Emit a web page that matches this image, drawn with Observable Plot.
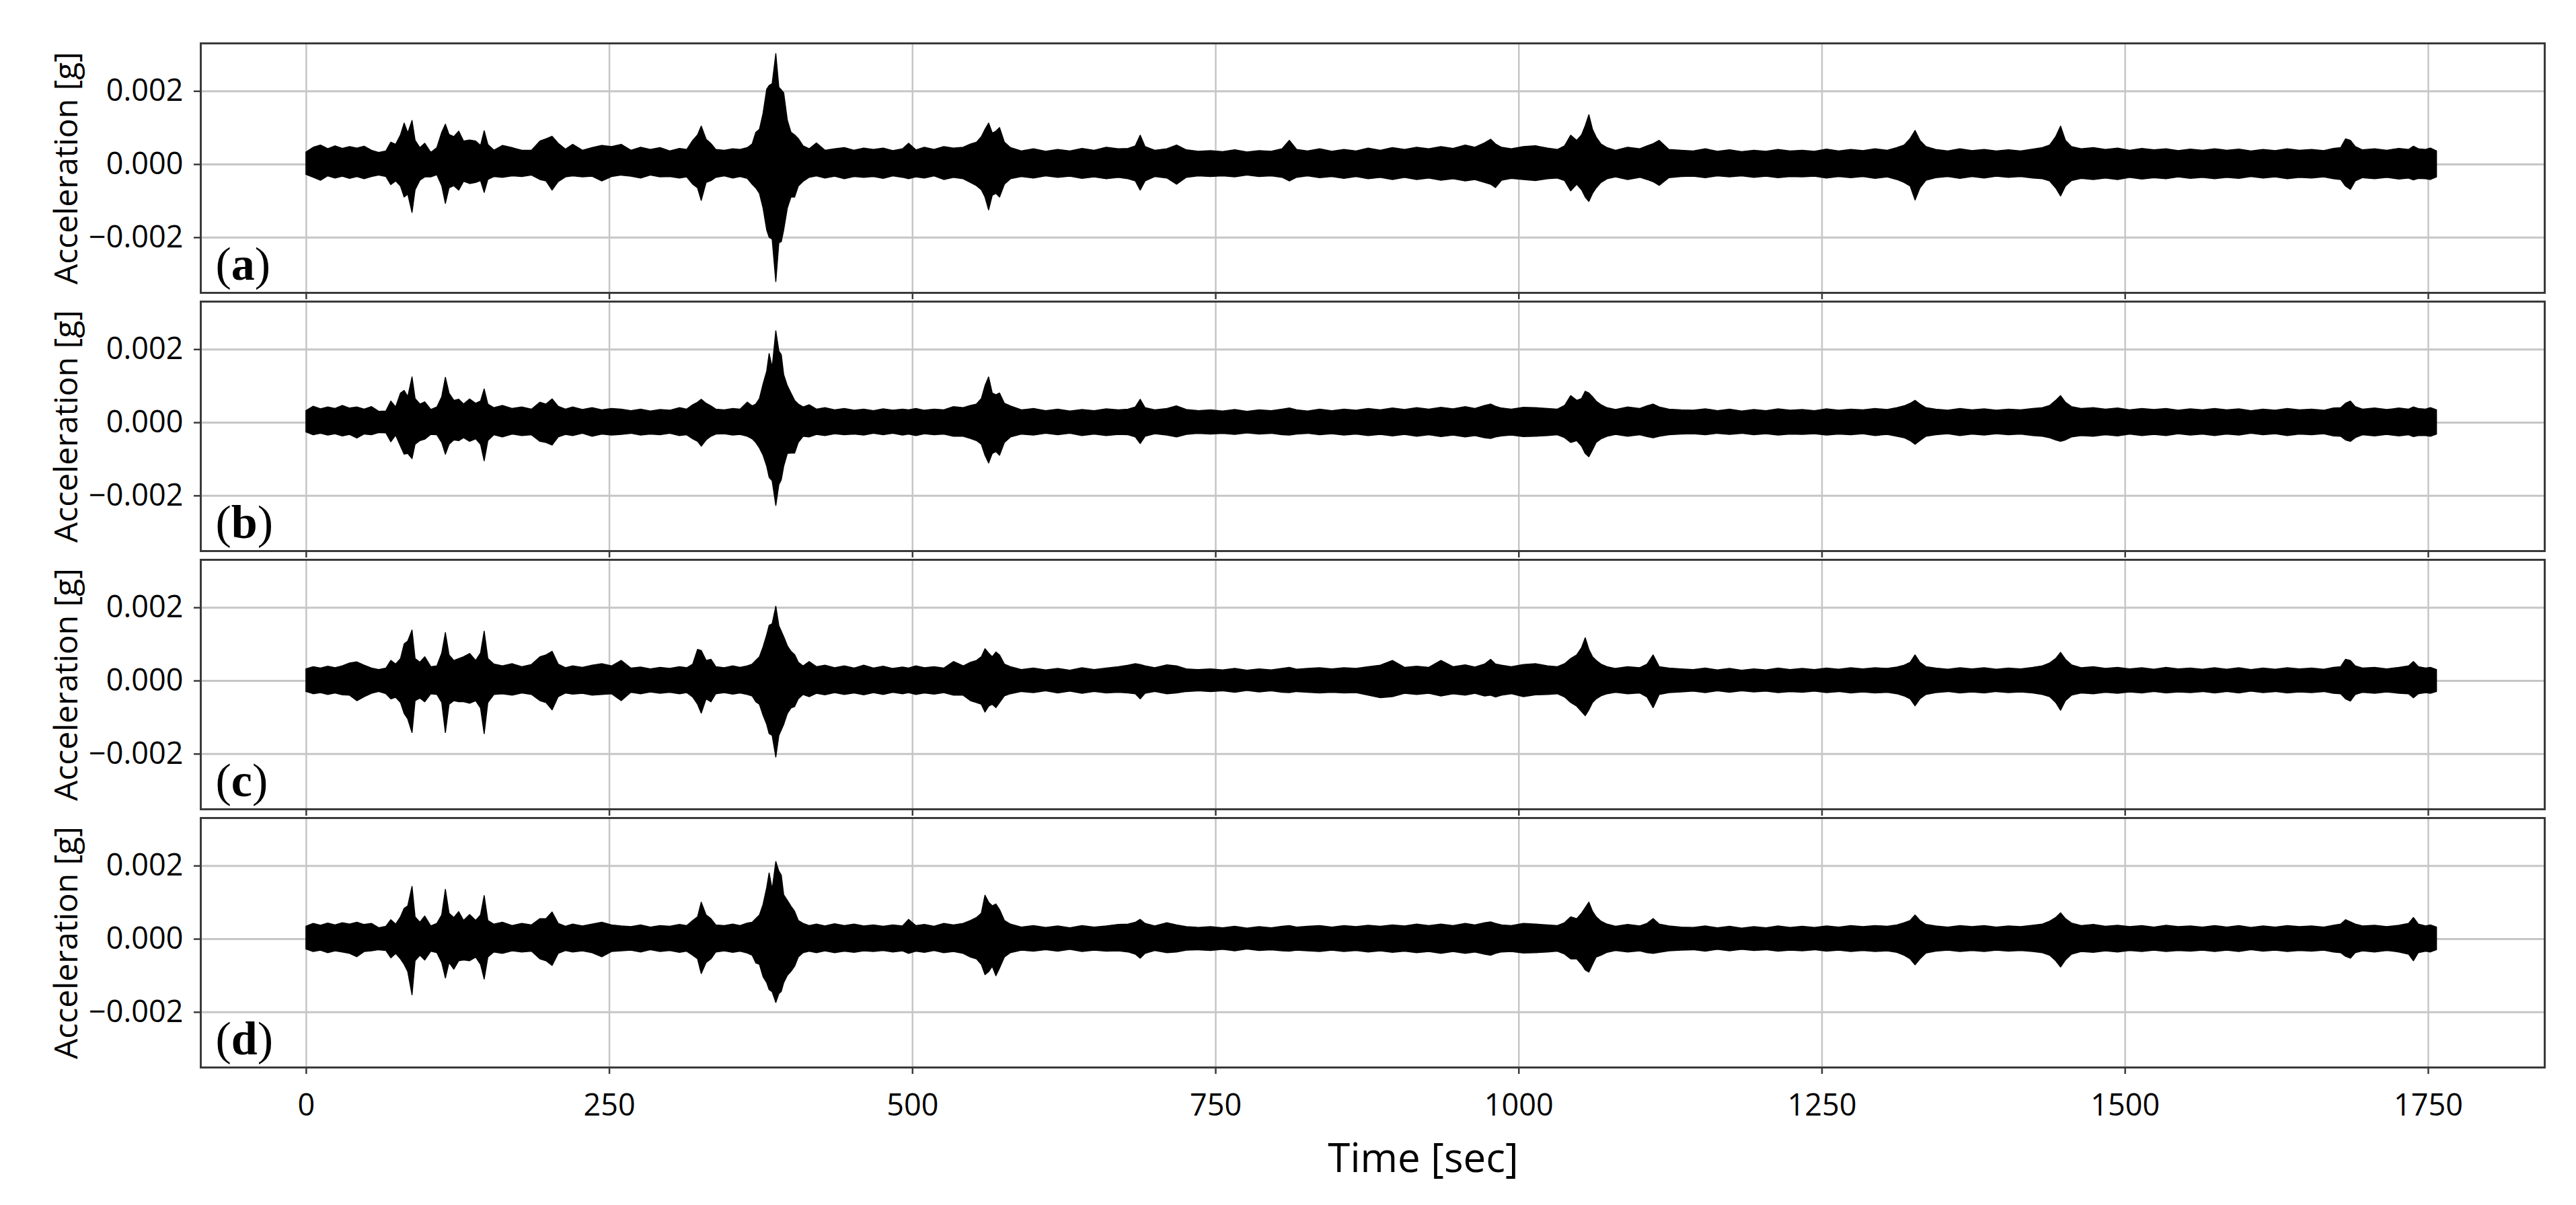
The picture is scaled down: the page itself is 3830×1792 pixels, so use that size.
<!DOCTYPE html>
<html>
<head>
<meta charset="utf-8">
<script src="https://cdn.jsdelivr.net/npm/d3@7"></script>
<script src="https://cdn.jsdelivr.net/npm/@observablehq/plot@0.6"></script>
<style>
  html, body { margin: 0; padding: 0; background: #ffffff; }
  #chart { width: 3830px; height: 1792px; }
  #chart svg { display: block; }
</style>
</head>
<body>
<div id="chart"></div>
<script>
// ---------------- DATA ----------------
// time [sec] of each envelope sample (shared by all four records)
const time = [
  0, 6, 12, 18, 24, 30, 36, 42, 48, 54,
  60, 66, 70, 74, 78, 81, 84, 87.5, 90, 94,
  98, 103, 108, 112, 115, 118, 122, 126, 130, 135,
  140, 144, 147, 150, 155, 162, 170, 178, 186, 193,
  198, 203, 208, 214, 220, 228, 236, 244, 252, 260,
  268, 276, 284, 292, 300, 308, 314, 319, 323, 326,
  330, 334, 338, 345, 352, 358, 364, 368, 371, 374,
  377, 380, 382, 384.5, 387.5, 390, 392, 394, 397, 400,
  403, 406, 410, 415, 421, 428, 436, 444, 452, 460,
  468, 476, 484, 492, 497, 503, 510, 518, 526, 534,
  542, 548, 553, 557, 560, 563, 566, 569, 572, 576,
  581, 590, 600, 610, 620, 630, 640, 650, 660, 670,
  678, 684, 688, 692, 700, 710, 718, 726, 736, 746,
  756, 766, 776, 786, 796, 805, 811, 817, 826, 836,
  846, 856, 866, 876, 886, 896, 906, 916, 926, 936,
  946, 956, 964, 972, 977, 981, 986, 994, 1004, 1014,
  1024, 1032, 1038, 1043, 1048, 1052, 1055, 1058, 1061, 1064,
  1068, 1073, 1080, 1090, 1100, 1106, 1111, 1116, 1124, 1134,
  1144, 1154, 1164, 1174, 1184, 1194, 1204, 1214, 1224, 1234,
  1244, 1254, 1264, 1274, 1284, 1294, 1304, 1312, 1318, 1323,
  1327, 1331, 1336, 1344, 1354, 1364, 1374, 1384, 1394, 1404,
  1414, 1424, 1432, 1438, 1443, 1447, 1451, 1456, 1464, 1474,
  1484, 1494, 1504, 1514, 1524, 1534, 1544, 1554, 1564, 1574,
  1584, 1594, 1604, 1614, 1624, 1634, 1644, 1654, 1664, 1672,
  1678, 1682, 1686, 1690, 1696, 1706, 1716, 1726, 1734, 1738,
  1742, 1748, 1752, 1757
];

// upper / lower envelope of each acceleration record, in units of 1e-4 g
const aTop = [
  3.3, 4.6, 5.2, 4.2, 5.0, 4.3, 4.8, 4.4, 4.9, 3.8,
  3.2, 3.6, 6.0, 5.4, 8.0, 11.2, 8.5, 11.9, 6.5, 4.5,
  5.7, 3.2, 4.5, 8.7, 10.9, 8.1, 7.5, 9.0, 6.3, 6.6,
  6.3, 5.1, 9.1, 5.4, 3.8, 5.1, 4.5, 3.8, 3.8, 6.3,
  6.9, 7.6, 5.7, 4.1, 5.4, 3.8, 4.5, 5.1, 4.8, 5.4,
  3.8, 4.6, 4.0, 4.5, 3.6, 4.3, 4.0, 6.5, 8.0, 10.4,
  6.8, 5.6, 4.0, 3.8, 4.2, 4.0, 4.5, 5.5, 8.7, 9.5,
  13.9, 20.5, 21.5, 22.0, 30.2, 21.0, 20.3, 19.5, 12.0, 8.7,
  8.0, 7.0, 5.0, 4.2, 5.8, 3.8, 4.2, 4.5, 3.8, 4.4,
  4.0, 4.4, 3.7, 4.2, 5.7, 3.9, 4.6, 4.0, 4.8, 4.4,
  4.6, 5.5, 6.0, 7.5, 9.5, 11.2, 8.5, 9.0, 10.0, 6.0,
  4.5, 3.6, 4.2, 3.5, 4.0, 3.6, 4.3, 3.8, 4.6, 4.2,
  4.3, 5.0, 7.9, 4.8, 3.8, 4.2, 5.2, 3.9, 3.5, 3.7,
  3.4, 3.9, 3.3, 3.7, 3.5, 4.2, 6.5, 4.0, 3.6, 4.2,
  3.5, 4.0, 3.6, 4.4, 3.8, 4.5, 4.0, 4.6, 4.2, 4.8,
  4.3, 5.2, 4.6, 5.8, 6.8, 5.5, 4.6, 4.2, 4.8, 5.0,
  4.4, 4.0, 5.0, 7.9, 6.5, 8.0, 10.5, 13.5, 9.5, 7.4,
  5.5, 4.5, 3.8, 4.6, 4.2, 5.0, 5.6, 6.5, 4.0, 3.8,
  3.6, 4.2, 3.5, 3.9, 3.4, 3.8, 3.5, 4.0, 3.6, 3.8,
  3.5, 4.1, 3.6, 4.0, 3.7, 4.2, 3.8, 4.5, 5.2, 7.0,
  9.2, 6.5, 4.8, 4.0, 3.6, 4.2, 3.7, 4.0, 3.6, 3.9,
  3.6, 4.1, 4.5, 5.2, 7.5, 10.4, 6.5, 4.8, 4.2, 4.5,
  4.0, 4.4, 3.8, 4.3, 3.9, 4.2, 3.7, 4.1, 3.8, 4.2,
  3.8, 4.1, 3.6, 4.0, 3.7, 4.2, 3.8, 4.0, 3.7, 4.3,
  4.5, 6.9, 6.5, 4.8, 3.9, 4.2, 3.8, 4.3, 4.0, 4.9,
  4.2, 4.0, 4.4, 3.6
];
const aBottom = [
  -2.8, -3.6, -4.4, -3.2, -3.8, -3.3, -3.9, -3.4, -4.0, -3.4,
  -3.0, -3.4, -5.6, -4.6, -6.0, -9.0, -8.2, -13.2, -7.0, -4.4,
  -3.5, -3.5, -2.9, -5.9, -10.7, -6.5, -5.9, -7.1, -4.7, -5.3,
  -5.0, -4.5, -7.7, -4.2, -3.4, -3.6, -3.2, -3.4, -3.0, -4.2,
  -4.6, -7.1, -4.8, -3.5, -3.2, -3.5, -3.3, -4.6, -3.4, -3.0,
  -3.3, -3.8, -3.0, -3.5, -3.4, -3.8, -3.5, -5.5, -6.5, -9.9,
  -5.0, -4.5, -3.6, -3.2, -3.8, -3.4, -3.9, -5.5, -6.5, -8.0,
  -12.0, -18.0, -20.0, -20.5, -32.1, -21.5, -21.2, -18.0, -12.0, -9.0,
  -9.0, -6.0, -4.7, -3.6, -3.2, -3.8, -3.3, -4.0, -3.4, -3.6,
  -3.4, -3.9, -3.2, -3.6, -4.0, -3.5, -3.8, -3.2, -4.2, -3.6,
  -4.0, -5.0, -5.9, -7.0, -9.0, -12.5, -8.5, -8.0, -9.0, -5.5,
  -4.0, -3.4, -3.8, -3.2, -3.6, -3.3, -3.9, -3.5, -4.0, -3.6,
  -4.0, -4.6, -7.1, -4.6, -3.4, -3.8, -5.5, -3.6, -3.2, -3.4,
  -3.2, -3.5, -3.0, -3.4, -3.2, -3.6, -4.6, -3.6, -3.2, -3.7,
  -3.4, -3.9, -3.4, -4.0, -3.6, -4.2, -3.6, -4.2, -3.8, -4.4,
  -4.0, -4.6, -4.2, -5.0, -5.5, -6.4, -4.4, -3.9, -4.2, -4.5,
  -4.0, -3.8, -4.5, -7.3, -5.5, -7.0, -9.0, -10.2, -8.0, -6.5,
  -5.0, -4.0, -3.5, -4.2, -3.6, -4.2, -4.8, -5.8, -3.7, -3.4,
  -3.3, -3.7, -3.2, -3.5, -3.2, -3.6, -3.3, -3.7, -3.4, -3.5,
  -3.3, -3.8, -3.4, -3.7, -3.4, -3.9, -3.5, -4.2, -5.0, -6.0,
  -9.8, -6.5, -4.4, -3.7, -3.4, -3.9, -3.4, -3.8, -3.3, -3.6,
  -3.4, -3.8, -4.0, -4.6, -6.5, -8.7, -6.0, -4.5, -3.9, -4.2,
  -3.8, -4.2, -3.6, -4.1, -3.7, -4.0, -3.5, -3.9, -3.6, -4.0,
  -3.6, -3.9, -3.4, -3.8, -3.5, -4.0, -3.6, -3.8, -3.5, -4.0,
  -4.2, -6.0, -6.9, -4.6, -3.7, -4.0, -3.6, -4.1, -3.8, -4.3,
  -3.9, -4.0, -4.2, -3.5
];
const bTop = [
  3.2, 4.4, 3.7, 4.2, 3.8, 4.6, 3.9, 4.2, 3.6, 4.3,
  3.0, 3.1, 5.8, 4.2, 8.0, 8.7, 7.0, 12.4, 6.5, 5.0,
  5.6, 3.5, 4.2, 7.0, 12.3, 8.0, 6.0, 6.3, 5.0, 6.4,
  5.2, 5.8, 9.1, 5.0, 4.0, 4.6, 3.8, 4.2, 3.6, 5.5,
  5.0, 6.4, 4.4, 3.6, 4.2, 3.5, 4.0, 3.4, 3.8, 3.6,
  3.2, 3.6, 3.1, 3.5, 3.3, 4.0, 3.6, 4.8, 5.5, 6.3,
  5.2, 4.5, 3.6, 3.4, 3.8, 3.6, 5.5, 4.5, 5.0, 6.5,
  10.5, 14.0, 18.8, 15.0, 25.0, 19.5, 18.5, 13.0, 10.0, 8.0,
  6.0, 5.0, 4.2, 4.8, 3.6, 4.0, 3.4, 3.8, 3.3, 3.6,
  3.2, 3.7, 3.3, 3.6, 3.4, 3.8, 3.3, 3.6, 3.4, 4.3,
  4.0, 4.6, 5.0, 6.5, 10.0, 12.4, 8.0, 7.5, 8.0, 5.2,
  4.5, 3.4, 3.8, 3.2, 3.6, 3.1, 3.5, 3.2, 3.7, 3.4,
  3.6, 4.2, 6.3, 4.0, 3.4, 3.8, 4.5, 3.5, 3.2, 3.4,
  3.1, 3.5, 3.0, 3.4, 3.2, 3.6, 3.9, 3.4, 3.1, 3.6,
  3.2, 3.6, 3.3, 3.8, 3.4, 3.9, 3.5, 4.0, 3.6, 4.1,
  3.7, 4.3, 3.8, 4.6, 5.0, 4.4, 3.9, 3.6, 4.1, 4.0,
  3.8, 3.6, 4.6, 7.3, 6.0, 6.5, 8.5, 8.0, 7.0, 5.8,
  4.8, 4.0, 3.5, 4.2, 3.8, 4.5, 5.0, 4.2, 3.6, 3.4,
  3.3, 3.7, 3.2, 3.6, 3.1, 3.5, 3.2, 3.7, 3.3, 3.5,
  3.2, 3.7, 3.3, 3.6, 3.4, 3.8, 3.5, 4.0, 4.5, 5.2,
  6.0, 5.0, 4.0, 3.6, 3.3, 3.8, 3.4, 3.7, 3.3, 3.6,
  3.4, 3.8, 4.0, 4.6, 6.0, 7.3, 5.5, 4.3, 3.8, 4.0,
  3.6, 3.9, 3.4, 3.8, 3.5, 3.8, 3.3, 3.7, 3.4, 3.8,
  3.4, 3.7, 3.2, 3.6, 3.3, 3.8, 3.4, 3.6, 3.3, 3.9,
  4.0, 5.2, 5.8, 4.3, 3.6, 3.9, 3.5, 3.9, 3.6, 4.2,
  3.8, 3.6, 4.0, 3.4
];
const bBottom = [
  -2.6, -3.4, -3.0, -3.5, -3.1, -3.7, -3.3, -4.3, -3.2, -3.4,
  -2.8, -2.9, -5.3, -3.5, -6.5, -8.7, -8.5, -9.9, -6.0, -5.0,
  -4.6, -3.3, -3.4, -5.5, -8.7, -6.0, -4.8, -5.0, -4.2, -5.2,
  -4.5, -6.0, -10.5, -5.0, -3.4, -4.0, -3.2, -3.6, -3.4, -5.2,
  -5.5, -6.2, -4.0, -3.3, -3.6, -3.0, -3.8, -3.2, -3.5, -3.3,
  -3.0, -3.5, -3.2, -3.4, -3.0, -3.6, -3.4, -4.5, -5.2, -6.5,
  -4.8, -3.8, -3.2, -3.1, -3.5, -3.3, -3.8, -4.5, -5.5, -7.0,
  -9.0, -12.0, -15.0, -16.0, -22.7, -17.0, -15.7, -12.0, -8.5, -8.4,
  -8.4, -5.5, -3.8, -4.0, -3.3, -3.6, -3.1, -3.4, -3.2, -3.5,
  -3.0, -3.4, -3.0, -3.5, -3.2, -3.6, -3.1, -3.4, -3.2, -3.8,
  -3.8, -4.4, -5.0, -6.0, -9.0, -11.1, -8.5, -8.0, -9.0, -5.5,
  -4.0, -3.2, -3.5, -3.0, -3.4, -3.0, -3.6, -3.2, -3.6, -3.3,
  -3.4, -4.0, -5.8, -3.8, -3.1, -3.5, -4.0, -3.3, -3.0, -3.2,
  -3.0, -3.3, -2.9, -3.2, -3.0, -3.4, -3.5, -3.2, -3.0, -3.4,
  -3.1, -3.5, -3.2, -3.6, -3.3, -3.7, -3.3, -3.8, -3.4, -3.9,
  -3.5, -4.0, -3.6, -4.2, -4.4, -4.0, -3.7, -3.5, -3.9, -3.8,
  -3.6, -3.4, -4.2, -5.5, -5.0, -6.5, -8.5, -9.4, -7.5, -5.5,
  -4.5, -3.8, -3.3, -3.8, -3.4, -3.9, -4.2, -3.8, -3.4, -3.2,
  -3.1, -3.4, -3.0, -3.3, -3.0, -3.4, -3.1, -3.5, -3.2, -3.3,
  -3.1, -3.5, -3.2, -3.4, -3.1, -3.6, -3.3, -3.8, -4.2, -5.0,
  -6.0, -5.0, -3.8, -3.4, -3.1, -3.6, -3.2, -3.5, -3.1, -3.4,
  -3.2, -3.6, -3.8, -4.2, -4.8, -5.2, -4.8, -4.0, -3.6, -3.8,
  -3.4, -3.7, -3.2, -3.6, -3.3, -3.6, -3.1, -3.5, -3.2, -3.6,
  -3.2, -3.5, -3.0, -3.4, -3.1, -3.6, -3.2, -3.4, -3.1, -3.7,
  -3.8, -4.8, -5.2, -4.2, -3.4, -3.7, -3.3, -3.7, -3.4, -3.9,
  -3.6, -3.6, -3.8, -3.2
];
const cTop = [
  3.2, 3.8, 3.4, 3.9, 3.5, 4.0, 4.8, 5.1, 4.2, 3.4,
  3.0, 3.4, 5.5, 4.5, 6.0, 10.0, 10.8, 13.8, 6.0, 5.0,
  6.5, 3.8, 4.0, 7.5, 13.1, 7.0, 5.5, 6.0, 6.5, 7.4,
  5.5, 7.5, 13.5, 6.0, 4.5, 4.0, 4.6, 3.8, 4.4, 6.5,
  7.0, 8.0, 4.5, 3.5, 4.0, 3.6, 4.2, 4.6, 4.0, 5.5,
  3.4, 3.7, 3.2, 3.6, 3.3, 3.8, 3.5, 4.5, 8.5, 8.2,
  5.5, 5.8, 3.8, 3.5, 4.0, 3.6, 4.0, 4.5, 5.5, 6.5,
  9.2, 12.5, 15.1, 15.5, 20.3, 15.0, 13.5, 12.0, 9.5, 8.0,
  7.1, 5.0, 4.0, 5.2, 3.8, 4.2, 3.5, 4.0, 3.4, 4.2,
  3.4, 3.9, 3.3, 3.7, 3.4, 4.0, 3.5, 3.8, 3.4, 5.2,
  4.0, 5.0, 5.5, 6.5, 8.7, 7.5, 6.5, 7.8, 7.0, 4.5,
  3.8, 3.0, 3.4, 2.9, 3.3, 2.8, 3.5, 3.0, 3.4, 3.8,
  4.2, 4.6, 4.4, 4.0, 3.5, 4.3, 4.0, 3.2, 3.0, 3.2,
  2.9, 3.3, 2.8, 3.2, 2.9, 3.3, 3.6, 3.1, 3.3, 3.5,
  3.2, 3.5, 3.3, 3.8, 4.2, 5.5, 3.6, 3.9, 3.6, 5.5,
  3.8, 4.3, 3.7, 4.5, 5.8, 4.5, 4.2, 3.8, 4.4, 4.6,
  4.0, 3.8, 4.6, 6.0, 7.0, 9.0, 11.7, 8.5, 6.5, 5.5,
  4.5, 3.8, 3.3, 3.8, 3.5, 4.5, 7.0, 3.8, 3.4, 3.2,
  3.0, 3.4, 2.9, 3.3, 2.8, 3.2, 2.9, 3.4, 3.0, 3.3,
  3.0, 3.4, 3.1, 3.5, 3.2, 3.5, 3.3, 3.7, 4.2, 5.0,
  7.0, 5.0, 3.8, 3.4, 3.1, 3.5, 3.2, 3.5, 3.1, 3.4,
  3.2, 3.6, 4.0, 4.8, 6.0, 7.7, 5.8, 4.3, 3.5, 3.8,
  3.3, 3.6, 3.2, 3.5, 3.1, 3.6, 3.2, 3.4, 3.1, 3.5,
  3.1, 3.5, 3.0, 3.4, 3.1, 3.5, 3.2, 3.4, 3.1, 3.6,
  3.8, 5.8, 5.5, 4.0, 3.4, 3.6, 3.2, 3.6, 4.0, 5.2,
  3.8, 3.4, 3.6, 3.0
];
const cBottom = [
  -3.0, -3.6, -3.3, -3.8, -3.4, -3.9, -4.0, -5.5, -4.4, -3.5,
  -3.0, -3.6, -5.0, -4.6, -6.0, -9.0, -10.5, -14.2, -5.5, -4.8,
  -5.8, -3.6, -3.8, -6.0, -14.2, -6.5, -5.5, -5.8, -5.8, -6.2,
  -5.5, -7.5, -14.5, -6.0, -3.8, -3.6, -4.0, -3.4, -3.8, -5.5,
  -6.0, -8.0, -4.4, -3.4, -3.7, -3.5, -4.0, -3.8, -3.6, -5.5,
  -3.2, -3.6, -3.1, -3.5, -3.2, -3.6, -3.3, -4.5, -6.5, -8.9,
  -5.0, -5.8, -3.6, -3.3, -3.7, -3.4, -3.8, -4.2, -5.8, -6.5,
  -9.5, -12.0, -14.5, -15.0, -20.9, -15.0, -13.5, -12.0, -9.0, -7.5,
  -7.1, -5.0, -3.8, -4.4, -3.5, -3.9, -3.3, -3.8, -3.4, -3.9,
  -3.3, -3.8, -3.2, -3.6, -3.3, -3.8, -3.4, -3.7, -3.3, -4.0,
  -4.0, -5.5, -6.0, -6.5, -8.6, -7.0, -6.5, -7.4, -6.0, -4.2,
  -3.6, -3.0, -3.3, -2.8, -3.4, -2.9, -3.5, -3.0, -3.4, -3.2,
  -3.4, -3.6, -5.0, -3.5, -3.0, -3.6, -3.4, -3.0, -2.8, -3.0,
  -2.8, -3.2, -2.7, -3.1, -2.8, -3.2, -3.3, -3.0, -3.2, -3.4,
  -3.2, -3.4, -3.3, -4.0, -4.7, -4.4, -3.5, -3.8, -3.5, -4.2,
  -3.6, -4.0, -3.5, -4.2, -4.0, -4.5, -4.0, -3.6, -4.4, -3.9,
  -3.8, -3.6, -4.5, -6.0, -7.0, -8.5, -9.6, -8.0, -6.0, -5.0,
  -4.2, -3.6, -3.2, -3.6, -3.4, -4.5, -7.4, -3.8, -3.3, -3.1,
  -2.9, -3.3, -2.8, -3.2, -2.8, -3.1, -2.9, -3.3, -3.0, -3.2,
  -2.9, -3.3, -3.0, -3.4, -3.1, -3.4, -3.2, -3.6, -4.2, -5.0,
  -6.9, -5.0, -3.8, -3.3, -3.0, -3.4, -3.1, -3.4, -3.0, -3.3,
  -3.1, -3.4, -3.8, -4.4, -6.0, -8.1, -5.5, -4.0, -3.4, -3.6,
  -3.2, -3.5, -3.1, -3.4, -3.0, -3.4, -3.1, -3.3, -3.0, -3.4,
  -3.0, -3.4, -2.9, -3.3, -3.0, -3.4, -3.1, -3.3, -3.0, -3.5,
  -3.6, -5.0, -5.6, -3.8, -3.2, -3.5, -3.1, -3.5, -3.6, -4.7,
  -3.6, -3.3, -3.5, -3.0
];
const dTop = [
  3.4, 4.2, 3.7, 4.3, 3.8, 4.4, 4.0, 4.5, 3.9, 4.2,
  3.0, 3.4, 5.2, 4.0, 6.0, 8.3, 9.0, 14.3, 6.0, 4.5,
  6.2, 3.5, 4.2, 6.5, 13.5, 7.0, 5.8, 7.4, 5.0, 6.6,
  5.0, 6.5, 11.8, 5.0, 4.0, 4.5, 3.6, 4.2, 3.8, 5.5,
  5.5, 7.3, 4.2, 3.4, 4.0, 3.5, 4.0, 4.5, 3.8, 3.5,
  3.3, 3.8, 3.2, 3.6, 3.4, 3.9, 3.6, 5.0, 6.0, 10.0,
  6.5, 5.5, 3.8, 3.6, 4.0, 3.6, 4.3, 4.5, 5.5, 6.5,
  9.4, 14.0, 18.0, 13.5, 21.1, 18.5, 17.4, 12.0, 10.5, 8.9,
  7.5, 5.0, 4.2, 3.6, 4.0, 3.5, 4.1, 3.6, 4.0, 3.5,
  3.8, 3.4, 3.8, 3.5, 5.3, 3.6, 3.9, 3.4, 4.2, 3.8,
  4.2, 5.0, 5.8, 7.0, 11.9, 10.0, 9.0, 9.5, 8.0, 5.0,
  4.0, 3.2, 3.6, 3.1, 3.5, 3.0, 3.6, 3.2, 3.5, 3.9,
  4.0, 4.5, 5.3, 4.2, 3.5, 4.4, 3.8, 3.3, 3.1, 3.3,
  3.0, 3.4, 2.9, 3.3, 3.0, 3.4, 3.6, 3.2, 3.4, 3.6,
  3.2, 3.6, 3.3, 3.7, 3.4, 3.8, 3.5, 4.0, 3.6, 4.0,
  3.6, 4.2, 3.8, 4.4, 4.6, 4.2, 3.8, 3.6, 4.2, 4.0,
  3.8, 3.6, 4.4, 6.0, 5.5, 7.0, 8.5, 10.0, 7.5, 6.0,
  4.8, 4.0, 3.4, 3.9, 3.5, 4.2, 5.5, 4.0, 3.5, 3.2,
  3.1, 3.5, 3.0, 3.4, 2.9, 3.3, 3.0, 3.5, 3.1, 3.4,
  3.1, 3.5, 3.2, 3.6, 3.3, 3.6, 3.4, 3.8, 4.4, 5.0,
  6.5, 5.0, 3.9, 3.5, 3.2, 3.6, 3.3, 3.6, 3.2, 3.5,
  3.3, 3.7, 4.0, 4.8, 5.8, 7.1, 5.5, 4.3, 3.6, 3.9,
  3.4, 3.7, 3.3, 3.6, 3.2, 3.7, 3.3, 3.5, 3.2, 3.6,
  3.2, 3.6, 3.1, 3.5, 3.2, 3.6, 3.3, 3.5, 3.2, 3.7,
  4.0, 5.2, 4.6, 4.0, 3.5, 3.7, 3.3, 3.7, 4.2, 5.8,
  4.0, 3.5, 3.8, 3.2
];
const dBottom = [
  -2.8, -3.5, -3.1, -3.8, -3.3, -3.6, -4.0, -4.9, -3.5, -3.3,
  -3.0, -3.2, -5.2, -4.0, -5.5, -7.0, -9.0, -15.3, -6.0, -4.5,
  -5.8, -3.4, -3.8, -6.5, -10.7, -6.5, -8.3, -6.0, -5.8, -6.0,
  -5.0, -7.0, -11.0, -5.0, -3.6, -4.0, -3.3, -3.6, -3.4, -5.5,
  -6.0, -7.3, -4.0, -3.2, -3.6, -3.3, -3.8, -4.9, -3.5, -3.3,
  -3.1, -3.6, -3.0, -3.5, -3.2, -3.7, -3.4, -4.5, -5.5, -9.5,
  -6.5, -5.5, -3.6, -3.3, -3.7, -3.4, -3.9, -4.5, -6.6, -7.0,
  -10.4, -12.0, -13.9, -14.5, -17.4, -15.0, -14.4, -12.0, -10.0, -8.9,
  -7.5, -5.0, -3.8, -3.4, -3.8, -3.3, -3.8, -3.4, -3.7, -3.3,
  -3.5, -3.2, -3.6, -3.3, -4.0, -3.4, -3.7, -3.2, -3.8, -3.5,
  -4.0, -5.0, -5.5, -7.0, -9.8, -9.0, -7.5, -10.1, -8.0, -5.0,
  -3.8, -3.1, -3.4, -3.0, -3.4, -2.9, -3.5, -3.1, -3.4, -3.3,
  -3.6, -4.2, -5.3, -4.0, -3.2, -3.8, -3.6, -3.1, -3.0, -3.2,
  -2.9, -3.3, -2.8, -3.2, -3.0, -3.3, -3.4, -3.1, -3.3, -3.5,
  -3.1, -3.5, -3.2, -3.6, -3.3, -3.7, -3.4, -3.8, -3.5, -4.0,
  -3.5, -4.0, -3.6, -4.2, -4.5, -4.0, -3.6, -3.5, -3.9, -3.8,
  -3.6, -3.4, -4.2, -5.5, -5.5, -7.0, -8.5, -9.1, -7.0, -5.0,
  -4.5, -3.7, -3.2, -3.6, -3.3, -3.8, -4.0, -3.7, -3.3, -3.1,
  -3.0, -3.4, -2.9, -3.3, -2.9, -3.2, -3.0, -3.4, -3.1, -3.3,
  -3.0, -3.4, -3.1, -3.5, -3.2, -3.5, -3.3, -3.7, -4.5, -5.5,
  -7.1, -5.5, -3.9, -3.4, -3.1, -3.5, -3.2, -3.5, -3.1, -3.4,
  -3.2, -3.5, -3.8, -4.5, -6.0, -7.7, -5.8, -4.2, -3.5, -3.7,
  -3.3, -3.6, -3.2, -3.5, -3.1, -3.5, -3.2, -3.4, -3.1, -3.5,
  -3.1, -3.5, -3.0, -3.4, -3.1, -3.5, -3.2, -3.4, -3.1, -3.6,
  -3.8, -4.8, -5.3, -3.8, -3.3, -3.6, -3.2, -3.6, -4.2, -6.0,
  -3.8, -3.4, -3.6, -3.0
];

const UNIT = 1e-4;                       // envelope values are in 1e-4 g
const panelKeys = ["a", "b", "c", "d"];
const panelTops = [aTop, bTop, cTop, dTop];
const panelBottoms = [aBottom, bBottom, cBottom, dBottom];
const xTicks = [0, 250, 500, 750, 1000, 1250, 1500, 1750];
const yTicks = [-0.002, 0, 0.002];
const xLabel = "Time [sec]";
const yLabel = "Acceleration [g]";

// ---------------- CHART ----------------
const W = 3830;
const ML = 298, MR = 47;
const PANEL_H = 371;
const xDomain = [-87, 1846];
const yDomain = [-0.00351, 0.00331];
const gridColor = "#c6c6c6";
const frameColor = "#3a3a3a";
const sans = "'Open Sans', 'DejaVu Sans', sans-serif";

const fmtY = d => d === 0 ? "0.000" : (d < 0 ? "\u2212" : "") + Math.abs(d).toFixed(3);

const host = document.getElementById("chart");

panelKeys.forEach((key, i) => {
  const tops = panelTops[i], bots = panelBottoms[i];
  if (tops.length !== time.length || bots.length !== time.length)
    console.error("length mismatch", key, tops.length, bots.length, time.length);
  const rows = time.map((t, j) => ({ t, hi: tops[j] * UNIT, lo: bots[j] * UNIT }));
  const first = i === 0, last = i === panelKeys.length - 1;
  const marginTop = first ? 64 : 1;
  const marginBottom = last ? 205 : 12;
  const svg = Plot.plot({
    width: W,
    height: marginTop + PANEL_H + marginBottom,
    marginLeft: ML,
    marginRight: MR,
    marginTop,
    marginBottom,
    x: { domain: xDomain },
    y: { domain: yDomain },
    style: { background: "#ffffff", fontFamily: sans, color: "#000", overflow: "visible" },
    marks: [
      Plot.gridX(xTicks, { stroke: gridColor, strokeOpacity: 1, strokeWidth: 2.5 }),
      Plot.gridY(yTicks, { stroke: gridColor, strokeOpacity: 1, strokeWidth: 3 }),
      Plot.areaY(rows, { x: "t", y1: "lo", y2: "hi", fill: "#000", stroke: "#000", strokeWidth: 1.5 }),
      Plot.frame({ stroke: frameColor, strokeWidth: 3 }),
      Plot.axisY(yTicks, {
        tickSize: 10, tickPadding: 16, fontSize: 45, tickFormat: fmtY,
        label: null, stroke: frameColor, strokeWidth: 2.5, fill: "#000"
      }),
      Plot.axisX(xTicks, {
        tickSize: 10, tickPadding: 30, fontSize: 45,
        tickFormat: last ? (d => String(d)) : (() => ""),
        label: null, stroke: frameColor, strokeWidth: 2.5, fill: "#000"
      }),
      Plot.text([yLabel], {
        text: d => d, frameAnchor: "left", dx: -199, rotate: -90,
        textAnchor: "middle", lineAnchor: "middle",
        fontSize: 48, fill: "#000"
      }),
      Plot.text([`(${key})`], {
        text: d => d, frameAnchor: "bottom-left", dx: 22, dy: -20,
        textAnchor: "start", lineAnchor: "bottom",
        fontSize: 70, fontFamily: "'Liberation Serif', 'Times New Roman', serif", fill: "#000"
      }),
      last ? Plot.text([xLabel], {
        text: d => d, frameAnchor: "bottom", dx: 75, dy: 136,
        textAnchor: "middle", lineAnchor: "middle",
        fontSize: 60, fill: "#000"
      }) : null
    ]
  });
  // panel tag: thin parentheses, bold letter
  d3.select(svg).selectAll("text").each(function () {
    const el = d3.select(this);
    if (el.text() === `(${key})`) {
      el.text(null);
      el.append("tspan").text("(");
      el.append("tspan").attr("font-weight", "bold").text(key);
      el.append("tspan").text(")");
    }
  });
  host.appendChild(svg);
});
</script>
</body>
</html>
